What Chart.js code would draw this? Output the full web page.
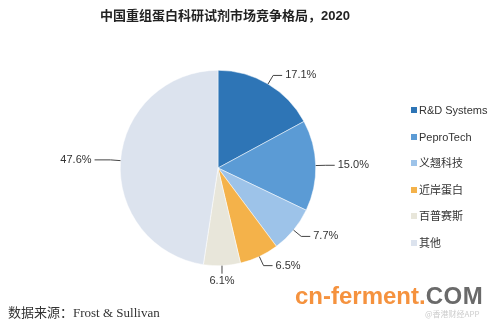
<!DOCTYPE html>
<html>
<head>
<meta charset="utf-8">
<script src="https://cdn.jsdelivr.net/npm/chart.js@4"></script>
<style>
  body { margin: 0; background: #fff; }
  #wrap { position: relative; width: 500px; height: 322px; overflow: hidden; }
  #pie { position: absolute; left: 0; top: 0; }
  #title { position: absolute; left: 100px; top: 5px; font: bold 13px "Liberation Sans", "Noto Sans CJK SC", sans-serif; color: #222; white-space: nowrap; }
  #legend { position: absolute; left: 411px; top: 103px; margin: 0; padding: 0; list-style: none; font: 11px "Liberation Sans", "Noto Sans CJK SC", sans-serif; color: #333; }
  #legend li { height: 26.6px; line-height: 14px; white-space: nowrap; }
  #legend span { display: inline-block; width: 6px; height: 6px; margin-right: 2px; vertical-align: 1px; }
  #source { position: absolute; left: 8px; top: 302px; font: 13px "Liberation Serif", "Noto Sans CJK SC", serif; color: #333; white-space: nowrap; }
  #mark { position: absolute; left: 295px; top: 282px; font: bold 24px "Liberation Sans", sans-serif; color: #f5923e; white-space: nowrap; }
  #mark b { color: #6a6a6a; letter-spacing: 0.5px; }
  #app { position: absolute; left: 425px; top: 308px; font: 8px "Noto Sans CJK SC", sans-serif; color: #ccc; white-space: nowrap; }
</style>
</head>
<body>
<div id="wrap">
  <canvas id="pie" width="500" height="322"></canvas>
  <div id="title">中国重组蛋白科研试剂市场竞争格局，2020</div>
  <ul id="legend"></ul>
  <div id="source">数据来源：Frost &amp; Sullivan</div>
  <div id="mark">cn-ferment<span style="color:#f5923e">.</span><b>COM</b></div>
  <div id="app">@香港财经APP</div>
</div>
<script>
const companies = ['R&D Systems', 'PeproTech', '义翘科技', '近岸蛋白', '百普赛斯', '其他'];
const shares = [17.1, 15.0, 7.7, 6.5, 6.1, 47.6];
const colors = ['#2e75b6', '#5b9bd5', '#9dc3e9', '#f4b24a', '#e8e6da', '#dce3ee'];

// html legend built from the same arrays
const legend = document.getElementById('legend');
companies.forEach(function (name, i) {
    const li = document.createElement('li');
    li.innerHTML = '<span style="background:' + colors[i] + '"></span>' + name;
    legend.appendChild(li);
});

// percentage labels with leader lines
const leaderLabels = {
    id: 'leaderLabels',
    afterDatasetsDraw(chart) {
        const ctx = chart.ctx;
        const meta = chart.getDatasetMeta(0);
        ctx.save();
        ctx.strokeStyle = '#444';
        ctx.lineWidth = 1;
        ctx.fillStyle = '#333';
        ctx.font = '11px "Liberation Sans", sans-serif';
        meta.data.forEach(function (arc, i) {
            const mid = (arc.startAngle + arc.endAngle) / 2;
            const r = arc.outerRadius;
            const cos = Math.cos(mid), sin = Math.sin(mid);
            const ax = arc.x + cos * r, ay = arc.y + sin * r;
            const text = shares[i].toFixed(1) + '%';
            ctx.beginPath();
            ctx.moveTo(ax, ay);
            if (Math.abs(cos) < 0.2) {
                const by = arc.y + sin * (r + 8);
                ctx.lineTo(ax, by);
                ctx.stroke();
                ctx.textAlign = 'center';
                ctx.textBaseline = sin > 0 ? 'top' : 'bottom';
                ctx.fillText(text, ax, by + (sin > 0 ? 2 : -2));
            } else {
                const dir = cos > 0 ? 1 : -1;
                const bx = arc.x + cos * (r + 10), by = arc.y + sin * (r + 10);
                const cx = bx + dir * (dir > 0 ? 9 : 16);
                ctx.lineTo(bx, by);
                ctx.lineTo(cx, by);
                ctx.stroke();
                ctx.textAlign = dir > 0 ? 'left' : 'right';
                ctx.textBaseline = 'middle';
                ctx.fillText(text, cx + dir * 3, by);
            }
        });
        ctx.restore();
    }
};

new Chart(document.getElementById('pie').getContext('2d'), {
    type: 'pie',
    data: {
        labels: companies,
        datasets: [{
            data: shares,
            backgroundColor: colors,
            borderColor: '#ffffff',
            borderWidth: 0.5
        }]
    },
    options: {
        responsive: false,
        animation: false,
        layout: { padding: { left: 120, right: 184, top: 70, bottom: 56 } },
        plugins: {
            legend: { display: false },
            tooltip: { enabled: false }
        }
    },
    plugins: [leaderLabels]
});
</script>
</body>
</html>
